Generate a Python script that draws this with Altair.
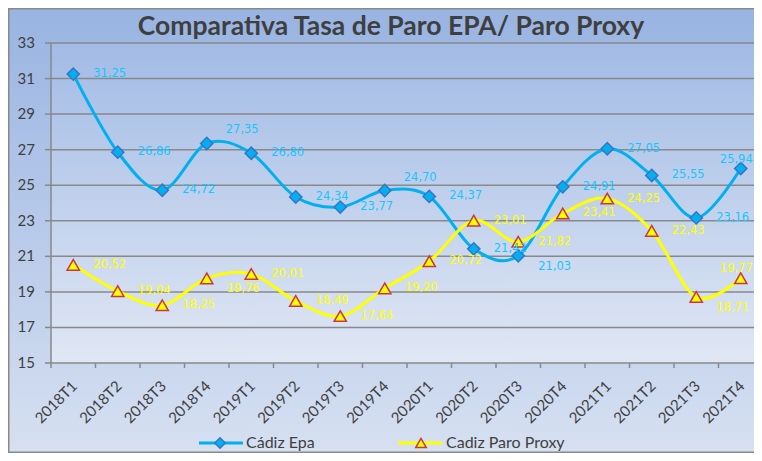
import altair as alt
import pandas as pd

# ---------------- data ----------------
periods = ["2018T1", "2018T2", "2018T3", "2018T4", "2019T1", "2019T2", "2019T3", "2019T4",
           "2020T1", "2020T2", "2020T3", "2020T4", "2021T1", "2021T2", "2021T3", "2021T4"]
epa = [31.25, 26.86, 24.72, 27.35, 26.80, 24.34, 23.77, 24.70,
       24.37, 21.42, 21.03, 24.91, 27.05, 25.55, 23.16, 25.94]
proxy = [20.52, 19.04, 18.25, 19.76, 20.01, 18.49, 17.64, 19.20,
         20.72, 23.01, 21.82, 23.41, 24.25, 22.43, 18.71, 19.77]
series_names = ["Cádiz Epa", "Cadiz Paro Proxy"]
y_ticks = [15, 17, 19, 21, 23, 25, 27, 29, 31, 33]
title_text = "Comparativa Tasa de Paro EPA/ Paro Proxy"

# label placement codes (r = right, ur = upper right, lr = lower right, u = above)
epa_label_pos = ["r", "r", "r", "ur", "r", "r", "r", "ur", "r", "r", "lr", "r", "r", "r", "r", "u"]
proxy_label_pos = ["r", "r", "r", "lr", "r", "r", "r", "r", "r", "r", "r", "r", "r", "r", "lr", "u"]

# ---------------- styles ----------------
W, H = 703, 320
X_RANGE = 712
PAD_B = 90
EPA_LINE = "#00B0F0"
EPA_LABEL = "#18C6FF"
EPA_EDGE = "#3A74C4"
PRX_LINE = "#FFFF00"
PRX_EDGE = "#C8383C"
GRID = "#898989"
TXT = "#3F3F3F"

rows = []
for i, p in enumerate(periods):
    rows.append({"period": p, "series": series_names[0], "value": epa[i],
                 "label": f"{epa[i]:.2f}".replace(".", ","), "pos": epa_label_pos[i]})
    rows.append({"period": p, "series": series_names[1], "value": proxy[i],
                 "label": f"{proxy[i]:.2f}".replace(".", ","), "pos": proxy_label_pos[i]})
df = pd.DataFrame(rows)
per_df = pd.DataFrame({"period": periods})
tick_df = pd.DataFrame({"v": y_ticks})
one = pd.DataFrame({"a": [0]})

xscale = alt.Scale(domain=periods, range=[0, X_RANGE], paddingInner=0, paddingOuter=0)
yscale = alt.Scale(domain=[15, 33], nice=False, zero=False)
X = alt.X("period:N", sort=periods, scale=xscale, axis=None, title=None)
Y = alt.Y("value:Q", scale=yscale, axis=None, title=None)
YT = alt.Y("v:Q", scale=yscale, axis=None, title=None)


def vgrad(c0, c1):
    return alt.LinearGradient(gradient="linear", x1=0, x2=0, y1=0, y2=1,
                              stops=[alt.GradientStop(color=c0, offset=0),
                                     alt.GradientStop(color=c1, offset=1)])


# chart-area and plot-area backgrounds
bg = alt.Chart(one).mark_rect(fill=vgrad("#99B4E2", "#D6E0F1"), stroke=GRID, strokeWidth=1.5).encode(
    x=alt.value(-42.25), x2=alt.value(W + 40), y=alt.value(-34.25), y2=alt.value(H + PAD_B - 0.75))
plot_bg = alt.Chart(one).mark_rect(fill=vgrad("#A2BBE5", "#E0E7F4")).encode(
    x=alt.value(0), x2=alt.value(W + 20), y=alt.value(0), y2=alt.value(H))

# gridlines, axis lines, ticks, axis labels
grid = alt.Chart(tick_df).mark_rule(color=GRID, strokeWidth=1.5).encode(
    y=YT, x=alt.value(0), x2=alt.value(W + 20))
y_dom = alt.Chart(one).mark_rule(color=GRID, strokeWidth=1.5).encode(
    x=alt.value(0), y=alt.value(0), y2=alt.value(H))
y_tk = alt.Chart(tick_df).mark_rule(color=GRID, strokeWidth=1.5).encode(
    y=YT, x=alt.value(-6), x2=alt.value(0))
y_lab = alt.Chart(tick_df).mark_text(font="Lato", fontSize=15, color=TXT, align="right",
                                     baseline="middle").encode(
    y=YT, x=alt.value(-16), text="v:Q")
x_tk = alt.Chart(per_df).mark_rule(color=GRID, strokeWidth=1.5).encode(
    x=alt.X("period:N", sort=periods, scale=xscale, axis=None, bandPosition=0),
    y=alt.value(H), y2=alt.value(H + 5))
x_lab = alt.Chart(per_df).mark_text(font="Lato", fontSize=15, color=TXT, align="right",
                                    baseline="middle", angle=315, dx=2).encode(
    x=X, y=alt.value(H + 22), text="period:N")

# series
lines = alt.Chart(df).mark_line(interpolate="cardinal", strokeWidth=3).encode(
    x=X, y=Y,
    color=alt.Color("series:N", scale=alt.Scale(domain=series_names, range=[EPA_LINE, PRX_LINE]),
                    legend=None),
    detail="series:N",
)
points = alt.Chart(df).mark_point(size=150, opacity=1, fillOpacity=1, strokeWidth=1.5).encode(
    x=X, y=Y,
    shape=alt.Shape("series:N", scale=alt.Scale(domain=series_names, range=["diamond", "triangle-up"]),
                    legend=None),
    fill=alt.Fill("series:N", scale=alt.Scale(domain=series_names, range=[EPA_LINE, PRX_LINE]),
                  legend=None),
    stroke=alt.Stroke("series:N", scale=alt.Scale(domain=series_names, range=[EPA_EDGE, PRX_EDGE]),
                      legend=None),
)

pos_style = {
    "r": dict(dx=20, dy=0, align="left"),
    "ur": dict(dx=19, dy=-13, align="left"),
    "lr": dict(dx=20, dy=11, align="left"),
    "u": dict(dx=12, dy=-9, align="right"),
}
label_layers = []
for s, col in zip(series_names, [EPA_LABEL, PRX_LINE]):
    for code, st in pos_style.items():
        sub = df[(df["series"] == s) & (df["pos"] == code)]
        if len(sub) == 0:
            continue
        label_layers.append(
            alt.Chart(sub).mark_text(font="DejaVu Sans", fontSize=11.5, color=col, baseline="middle",
                                     **st).encode(x=X, y=Y, text="label:N")
        )

# title
title = alt.Chart(pd.DataFrame({"t": [title_text]})).mark_text(
    font="Lato", fontSize=26.5, fontWeight="bold", color=TXT, align="center", baseline="alphabetic"
).encode(x=alt.value(340), y=alt.value(-8), text="t:N")

# legend
LY = H + 80
leg_df1 = pd.DataFrame({"name": [series_names[0]]})
leg_df2 = pd.DataFrame({"name": [series_names[1]]})
legend_layers = [
    alt.Chart(leg_df1).mark_rule(color=EPA_LINE, strokeWidth=3).encode(
        x=alt.value(148), x2=alt.value(192), y=alt.value(LY)),
    alt.Chart(leg_df1).mark_point(shape="diamond", size=110, fill=EPA_LINE, stroke=EPA_EDGE,
                                  opacity=1, fillOpacity=1, strokeWidth=1.5).encode(
        x=alt.value(169), y=alt.value(LY)),
    alt.Chart(leg_df1).mark_text(font="Lato", fontSize=16, color=TXT, align="left",
                                 baseline="middle").encode(
        x=alt.value(195), y=alt.value(LY), text="name:N"),
    alt.Chart(leg_df2).mark_rule(color=PRX_LINE, strokeWidth=3).encode(
        x=alt.value(347), x2=alt.value(391), y=alt.value(LY)),
    alt.Chart(leg_df2).mark_point(shape="triangle-up", size=110, fill=PRX_LINE, stroke=PRX_EDGE,
                                  opacity=1, fillOpacity=1, strokeWidth=1.5).encode(
        x=alt.value(370), y=alt.value(LY)),
    alt.Chart(leg_df2).mark_text(font="Lato", fontSize=16, color=TXT, align="left",
                                 baseline="middle").encode(
        x=alt.value(395), y=alt.value(LY), text="name:N"),
]

chart = alt.layer(bg, plot_bg, grid, y_dom, y_tk, y_lab, x_tk, x_lab, lines, points,
                  *label_layers, title, *legend_layers).properties(
    width=W, height=H,
    autosize=alt.AutoSizeParams(type="none"),
    padding={"left": 43, "top": 35, "right": 0, "bottom": PAD_B},
).configure_view(stroke=None).configure(background="white")

chart.save("out.html", embed_options={"renderer": "svg", "actions": False})
